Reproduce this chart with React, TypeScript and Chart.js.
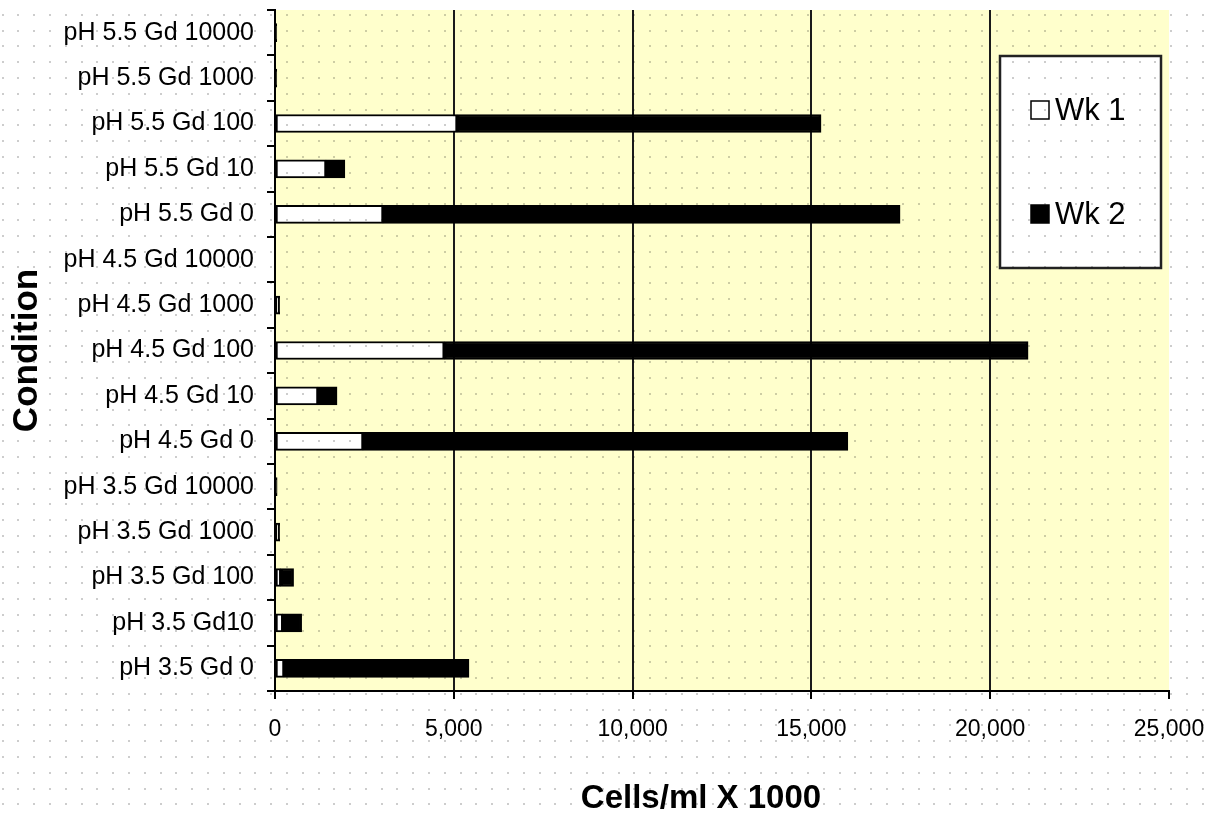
import { useEffect, useRef } from "react";
import { Chart, registerables } from "chart.js";

Chart.register(...registerables);

// Categories in data order (first one drawn at the bottom)
const conditions = [
  "pH 3.5 Gd 0",
  "pH 3.5 Gd10",
  "pH 3.5 Gd 100",
  "pH 3.5 Gd 1000",
  "pH 3.5 Gd 10000",
  "pH 4.5 Gd 0",
  "pH 4.5 Gd 10",
  "pH 4.5 Gd 100",
  "pH 4.5 Gd 1000",
  "pH 4.5 Gd 10000",
  "pH 5.5 Gd 0",
  "pH 5.5 Gd 10",
  "pH 5.5 Gd 100",
  "pH 5.5 Gd 1000",
  "pH 5.5 Gd 10000",
];

const week1 = [250, 215, 160, 120, 0, 2460, 1200, 4730, 120, 0, 3020, 1425, 5090, 0, 0];
const week2 = [5175, 530, 360, 10, 60, 13560, 535, 16330, 10, 0, 14460, 530, 10180, 50, 50];

const seriesNames = ["Wk 1", "Wk 2"];
const xMin = 0;
const xMax = 25000;
const xStep = 5000;
const xTitle = "Cells/ml X 1000";
const yTitle = "Condition";

const FONT = "'Liberation Sans', Arial, sans-serif";

export default function App() {
  const canvasRef = useRef<HTMLCanvasElement | null>(null);

  useEffect(() => {
    document.body.style.margin = "0";
    const canvas = canvasRef.current;
    if (!canvas) return;

    const bgPlugin = {
      id: "bgPlugin",
      beforeDraw(chart: any) {
        const { ctx, chartArea } = chart;
        ctx.save();
        ctx.fillStyle = "#ffffff";
        ctx.fillRect(0, 0, chart.width, chart.height);
        ctx.fillStyle = "#ffffcc";
        ctx.fillRect(
          chartArea.left,
          chartArea.top,
          chartArea.right - chartArea.left,
          chartArea.bottom - chartArea.top
        );
        ctx.restore();
      },
    };

    const overlayPlugin = {
      id: "overlayPlugin",
      afterDraw(chart: any) {
        const { ctx } = chart;
        ctx.save();
        // x-axis title centered on the whole chart
        ctx.fillStyle = "#000";
        ctx.font = `bold 33px ${FONT}`;
        ctx.textAlign = "center";
        ctx.textBaseline = "middle";
        ctx.fillText(xTitle, 701, 799);

        // legend box
        const lx = 1000, ly = 56, lw = 161, lh = 212;
        ctx.fillStyle = "#ffffff";
        ctx.fillRect(lx, ly, lw, lh);
        ctx.lineWidth = 2.5;
        ctx.strokeStyle = "#222";
        ctx.strokeRect(lx, ly, lw, lh);
        const items = chart.data.datasets;
        const rowsY = [110, 214];
        items.forEach((ds: any, i: number) => {
          const cy = rowsY[i];
          ctx.fillStyle = ds.backgroundColor;
          ctx.fillRect(1031, cy - 9, 18, 18);
          ctx.lineWidth = 1.5;
          ctx.strokeStyle = "#000";
          ctx.strokeRect(1031, cy - 9, 18, 18);
          ctx.fillStyle = "#000";
          ctx.font = `31px ${FONT}`;
          ctx.textAlign = "left";
          ctx.textBaseline = "middle";
          ctx.fillText(ds.label, 1055, cy + 1);
        });

        // dotted pattern overlay
        ctx.globalCompositeOperation = "multiply";
        ctx.fillStyle = "#cdcdcd";
        const sp = 15.79;
        for (let y = 14.8 - sp; y < chart.height; y += sp) {
          for (let x = 2.7; x < chart.width; x += sp) {
            ctx.fillRect(Math.round(x) - 1, Math.round(y) - 1, 2, 2);
          }
        }
        ctx.restore();
      },
    };

    const chart = new Chart(canvas, {
      type: "bar",
      data: {
        labels: conditions,
        datasets: [
          {
            label: seriesNames[0],
            data: week1,
            backgroundColor: "#ffffff",
            borderColor: "#000000",
            borderWidth: 2,
            borderSkipped: false,
            barThickness: 18,
          },
          {
            label: seriesNames[1],
            data: week2,
            backgroundColor: "#000000",
            borderColor: "#000000",
            borderWidth: 2,
            borderSkipped: false,
            barThickness: 18,
          },
        ],
      },
      options: {
        indexAxis: "y",
        animation: false,
        responsive: false,
        events: [],
        layout: { padding: { left: 0, top: 10, right: 46, bottom: 0 } },
        plugins: {
          legend: { display: false },
          tooltip: { enabled: false },
        },
        scales: {
          x: {
            stacked: true,
            min: xMin,
            max: xMax,
            ticks: {
              stepSize: xStep,
              color: "#000",
              font: { family: FONT, size: 23 },
              padding: 17,
              maxRotation: 0,
              callback: (v: any) => Number(v).toLocaleString("en-US"),
            },
            grid: {
              color: (c: any) =>
                c.tick && (c.tick.value === xMin || c.tick.value === xMax)
                  ? "rgba(0,0,0,0)"
                  : "#1a1a1a",
              tickColor: "#000",
              lineWidth: 2,
              tickLength: 8,
              drawTicks: true,
            },
            border: { color: "#000", width: 2 },
            afterFit: (scale: any) => {
              scale.height = 124;
              scale.paddingLeft = 0;
              scale.paddingRight = 0;
            },
          },
          y: {
            stacked: true,
            reverse: true,
            ticks: {
              color: "#000",
              font: { family: FONT, size: 25 },
              padding: 13,
              autoSkip: false,
            },
            grid: {
              drawOnChartArea: false,
              drawTicks: true,
              tickLength: 8,
              color: "#000",
              lineWidth: 2,
              offset: true,
            },
            border: { color: "#000", width: 2 },
            title: {
              display: true,
              text: yTitle,
              color: "#000",
              font: { family: FONT, size: 35, weight: "bold", lineHeight: 1 },
              padding: { top: 10, bottom: 0 },
            },
            afterFit: (scale: any) => {
              scale.width = 275;
              scale.paddingTop = 0;
              scale.paddingBottom = 0;
            },
          },
        },
      },
      plugins: [bgPlugin, overlayPlugin],
    } as any);

    return () => chart.destroy();
  }, []);

  return (
    <div style={{ position: "absolute", left: 0, top: 0, width: 1215, height: 815 }}>
      <canvas ref={canvasRef} width={1215} height={815} style={{ width: 1215, height: 815 }} />
    </div>
  );
}
